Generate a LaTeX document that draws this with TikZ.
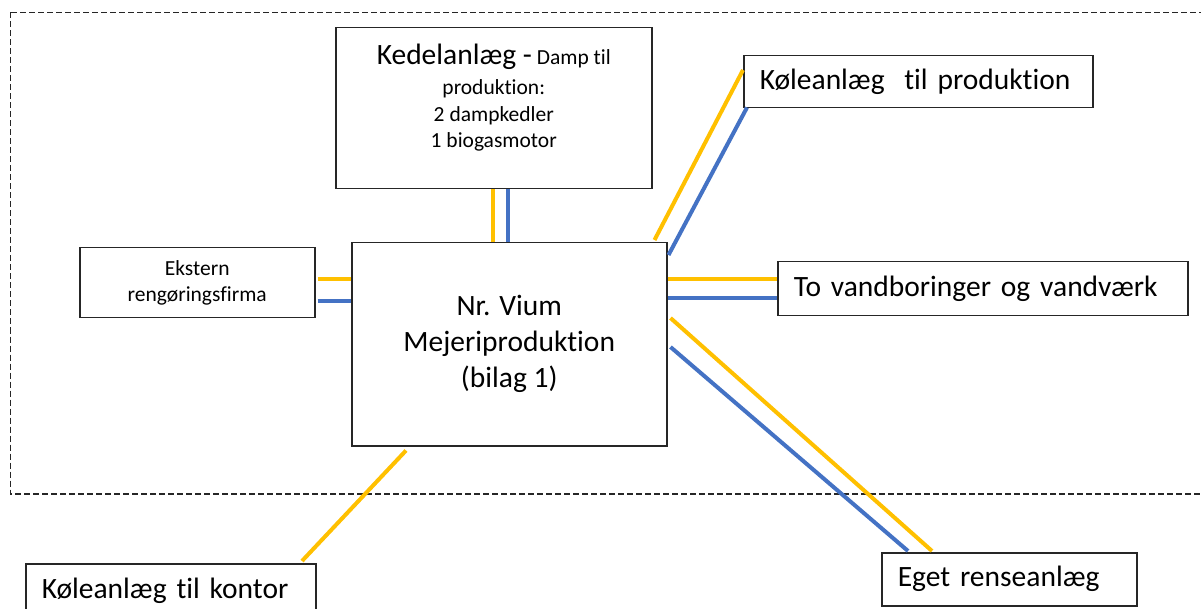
\documentclass[tikz,border=0pt]{standalone}
\usepackage{fontspec}
\setmainfont{Carlito}[Ligatures=NoCommon]
\usetikzlibrary{calc}
\definecolor{ylw}{HTML}{FFC000}
\definecolor{blu}{HTML}{4472C4}
\definecolor{edge}{HTML}{262626}
\tikzset{
  boxnode/.style={draw=edge, line width=1.5pt, rectangle, inner sep=0pt, anchor=north west, font=\fontsize{29.5}{36}\selectfont},
  ypipe/.style={draw=ylw, line width=4pt},
  bpipe/.style={draw=blu, line width=4pt},
  area/.style={draw=edge, line width=1.4pt, dash pattern=on 6pt off 3pt}
}
\newcommand{\smallfnt}{\fontsize{21.5}{26.5}\selectfont}
\newcommand{\bigfnt}{\fontsize{29.5}{36}\selectfont}
\begin{document}
\begin{tikzpicture}[x=1pt,y=-1pt]
\useasboundingbox[fill=white] (0,0) rectangle (1201,609);
% dashed boundary
\draw[area] (10.5,12.5) rectangle (1215,494);
% boxes
\node[boxnode] (kedel) at (335,27) {\parbox[c][161pt][t]{316pt}{\centering\vspace{16pt}\smallfnt{\bigfnt Kedelanlæg -} Damp til\\[4pt] produktion:\\ 2 dampkedler\\ 1 biogasmotor\par}};
\node[boxnode, minimum width=315pt, minimum height=203pt, align=center] (main) at (351,242) {Nr. Vium\\ Mejeriproduktion\\ (bilag 1)};
\node[boxnode, minimum width=235pt, minimum height=70pt, align=center, font=\smallfnt] (ekst) at (79,247) {Ekstern\\ rengøringsfirma};
\node[boxnode, minimum width=349pt, minimum height=52pt, text width=317pt, inner xsep=16pt, align=left] (kp) at (743,55) {Køleanlæg\ \ til produktion};
\node[boxnode, minimum width=410pt, minimum height=54pt, text width=378pt, inner xsep=16pt, align=left] (vand) at (777,261) {To vandboringer og vandværk};
\node[boxnode, minimum width=255pt, minimum height=53pt, text width=223pt, inner xsep=16pt, align=left] (eget) at (881,552) {Eget renseanlæg};
\node[boxnode, minimum width=290pt, minimum height=54pt, text width=258pt, inner xsep=16pt, align=left] (kontor) at (25,563) {Køleanlæg til kontor};
% connectors
\draw[ypipe] ($(kedel.south west)+(158,0)$) -- ($(main.north west)+(142,0)$);
\draw[bpipe] ($(kedel.south west)+(173,0)$) -- ($(main.north west)+(157,0)$);
\draw[ypipe] ($(ekst.north east)+(2,32)$) -- ($(main.north west)+(0,37)$);
\draw[bpipe] ($(ekst.north east)+(2,54)$) -- ($(main.north west)+(0,59)$);
\draw[ypipe] ($(main.north east)+(-13,-2)$) -- ($(kp.north west)+(0,15)$);
\draw[bpipe] ($(main.north east)+(1,13)$) -- ($(kp.south west)+(4,-1)$);
\draw[ypipe] ($(main.north east)+(0,37)$) -- ($(vand.north west)+(0,18)$);
\draw[bpipe] ($(main.north east)+(0,56)$) -- ($(vand.north west)+(0,37)$);
\draw[ypipe] ($(main.north east)+(3,76)$) -- ($(eget.north west)+(51,-1)$);
\draw[bpipe] ($(main.north east)+(3,105)$) -- ($(eget.north west)+(27,-1)$);
\draw[ypipe] ($(main.south west)+(55,4)$) -- ($(kontor.north west)+(277,-2)$);
\end{tikzpicture}
\end{document}
